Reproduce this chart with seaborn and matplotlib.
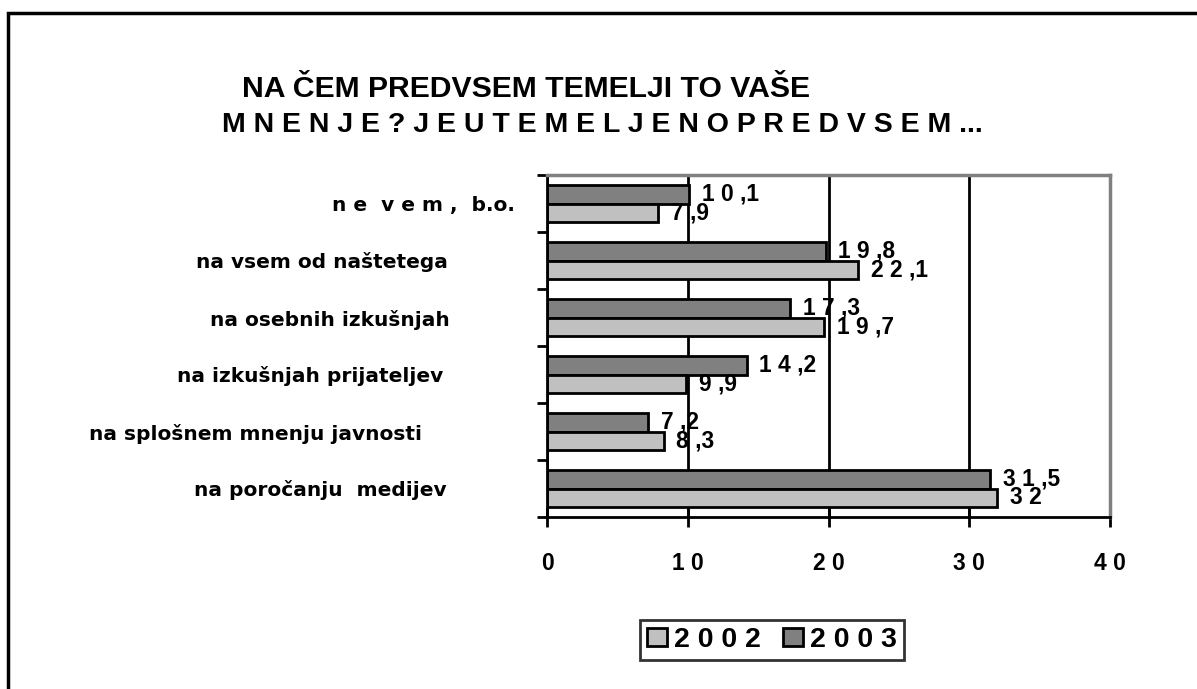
import numpy as np
import pandas as pd
import matplotlib
matplotlib.use("Agg")
import matplotlib.pyplot as plt
import seaborn as sns
from matplotlib import font_manager
from matplotlib.patches import Rectangle
from matplotlib.transforms import ScaledTranslation

# data
categories = [
    "ne vem, b.o.",
    "na vsem od naštetega",
    "na osebnih izkušnjah",
    "na izkušnjah prijateljev",
    "na splošnem mnenju javnosti",
    "na poročanju  medijev",
]
cat_labels = [
    "n e  v e m ,  b.o.",
    "na vsem od naštetega",
    "na osebnih izkušnjah",
    "na izkušnjah prijateljev",
    "na splošnem mnenju javnosti",
    "na poročanju  medijev",
]
years = ["2002", "2003"]
values_2002 = [7.9, 22.1, 19.7, 9.9, 8.3, 32]
values_2003 = [10.1, 19.8, 17.3, 14.2, 7.2, 31.5]
x_ticks = [0, 10, 20, 30, 40]
title_1 = "NA ČEM PREDVSEM TEMELJI TO VAŠE"
title_2 = "M N E N J E ? J E U T E M E L J E N O P R E D V S E M ..."

colors = {"2002": "#C0C0C0", "2003": "#808080"}


def spaced(text):
    # Excel-style character spacing, no gap after the decimal comma
    out = ""
    for i, ch in enumerate(text):
        out += ch
        if i < len(text) - 1 and ch != ",":
            out += " "
    return out


def fmt(v):
    return f"{v:g}".replace(".", ",")


sns.set_style("white", rc={"text.color": "black", "axes.labelcolor": "black",
                           "xtick.color": "black", "ytick.color": "black"})
installed = {f.name for f in font_manager.fontManager.ttflist}
if "Liberation Sans Narrow" in installed:
    NARROW, k = "Liberation Sans Narrow", 1.0
else:
    NARROW, k = "Liberation Sans", 0.82
plt.rcParams["font.family"] = [NARROW, "DejaVu Sans"]

df = pd.DataFrame({
    "category": categories * 2,
    "year": ["2002"] * len(categories) + ["2003"] * len(categories),
    "value": values_2002 + values_2003,
})

fig = plt.figure(figsize=(11.97, 6.89), dpi=100)
ax = fig.add_axes([547 / 1197, 1 - 517 / 689, 563 / 1197, 342 / 689])

sns.barplot(data=df, y="category", x="value", hue="year",
            hue_order=["2003", "2002"], palette=colors, orient="h",
            width=0.66, edgecolor="black", linewidth=2, errorbar=None,
            legend=False, ax=ax)

# value labels
for cont, vals in zip(ax.containers, [values_2003, values_2002]):
    ax.bar_label(cont, labels=[spaced(fmt(v)) for v in vals], padding=9,
                 fontsize=20 * k, fontweight="bold", family=NARROW,
                 color="black")

# axes
ax.set_xlim(0, 40)
ax.set_ylim(len(categories) - 0.5, -0.5)
ax.set_xlabel("")
ax.set_ylabel("")
ax.set_xticks(x_ticks)
ax.set_xticklabels([spaced(str(t)) for t in x_ticks], fontsize=20 * k,
                   fontweight="bold", family=NARROW)
ax.tick_params(axis="x", direction="inout", length=14, width=2, pad=18,
               color="black", labelcolor="black", bottom=True)

ax.set_yticks(np.arange(-0.5, len(categories)))
ax.set_yticks(np.arange(len(categories)), minor=True)
ax.set_yticklabels([], minor=False)
ax.set_yticklabels(cat_labels, minor=True, fontsize=14.5,
                   fontweight="bold", family="DejaVu Sans")
ax.tick_params(axis="y", which="major", direction="out", length=7, width=2,
               color="black", left=True)
ax.tick_params(axis="y", which="minor", length=0, pad=23, labelcolor="black")
ax.set_ylim(len(categories) - 0.5, -0.5)

shift_px = [0, 67, 65, 72, 93, 68]
for lbl, dx in zip(ax.get_yticklabels(minor=True), shift_px):
    lbl.set_transform(lbl.get_transform()
                      + ScaledTranslation(-dx / 100, 0, fig.dpi_scale_trans))

ax.set_axisbelow(True)
ax.xaxis.grid(True, color="black", linewidth=2)
ax.yaxis.grid(False)
for side in ["left", "bottom"]:
    ax.spines[side].set_color("black")
    ax.spines[side].set_linewidth(2)
for side in ["top", "right"]:
    ax.spines[side].set_color("#808080")
    ax.spines[side].set_linewidth(2.5)

# title
fig.text(242 / 1197, 1 - 97 / 689, title_1, fontsize=26.5 * k,
         fontweight="bold", family=NARROW, va="baseline", color="black")
fig.text(222 / 1197, 1 - 132 / 689, title_2, fontsize=25 * k,
         fontweight="bold", family=NARROW, va="baseline", color="black")

# legend: 2002 first
handles = [ax.containers[1].patches[0], ax.containers[0].patches[0]]
leg = fig.legend(handles, [spaced(y) for y in years], loc="center",
                 bbox_to_anchor=(772 / 1197, 1 - 640 / 689), ncol=2,
                 frameon=True, fancybox=False, edgecolor="black",
                 handlelength=0.7, handleheight=0.6, handletextpad=0.25,
                 columnspacing=0.8, borderpad=0.25, labelcolor="black",
                 prop={"family": NARROW, "weight": "bold", "size": 25 * k})
leg.get_frame().set_linewidth(2)

# outer frame of the chart area
fig.patches.append(Rectangle((8 / 1197, -0.1), 1.2, 1.1 - 13 / 689,
                             transform=fig.transFigure, fill=False,
                             edgecolor="black", linewidth=2.5, clip_on=False))

fig.savefig("out.png", dpi=100)
